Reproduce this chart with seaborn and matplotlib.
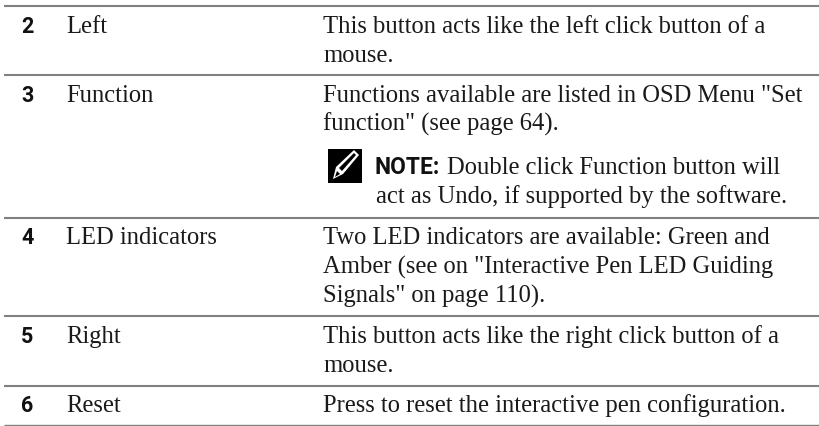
import matplotlib
matplotlib.use("Agg")
import matplotlib.pyplot as plt
from matplotlib.patches import Rectangle, Polygon
import seaborn as sns

sns.set_theme(style="white")

numbers = ["2", "3", "4", "5", "6"]
names = ["Left", "Function", "LED indicators", "Right", "Reset"]
number_y = [33, 102, 244, 343, 412]
rule_y = [5.5, 75, 218, 316, 386, 425]
desc_lines = [
    ("This button acts like the left click button of a", 33),
    ("mouse.", 62),
    ('Functions available are listed in OSD Menu "Set', 102),
    ('function" (see page 64).', 131),
    ("Two LED indicators are available: Green and", 244),
    ('Amber (see on "Interactive Pen LED Guiding', 274),
    ('Signals" on page 110).', 303),
    ("This button acts like the right click button of a", 343),
    ("mouse.", 372),
    ("Press to reset the interactive pen configuration.", 412),
]
note_label = "NOTE:"
note_line1 = "Double click Function button will"
note_line2 = "act as Undo, if supported by the software."

SERIF = ["Liberation Serif", "DejaVu Serif"]
BOLD = ["Roboto", "DejaVu Sans"]
FS = 17.7
TXT = "#1a1a1a"

fig = plt.figure(figsize=(8.2, 4.26), dpi=100)
ax = fig.add_axes([0, 0, 1, 1])
ax.set_xlim(0, 820)
ax.set_ylim(426, 0)
ax.axis("off")

for i, y in enumerate(rule_y):
    ax.plot([4, 820], [y, y], color="#808080", lw=1.5 if i < 5 else 1.0, solid_capstyle="butt")

for n, name, y in zip(numbers, names, number_y):
    ax.text(21, y, n, family=BOLD, weight="bold", fontsize=15.5, color="#111111", va="baseline")
    ax.text(66.5, y, name, family=SERIF, fontsize=FS, color=TXT, va="baseline")

for line, y in desc_lines:
    ax.text(323, y, line, family=SERIF, fontsize=FS, color=TXT, va="baseline")

# note icon: black square with an outlined white pencil
ax.add_patch(Rectangle((328, 149), 34, 34, color="black", lw=0))
ax.add_patch(Polygon([[333, 179], [336, 167], [354, 150], [359, 155], [343, 174]], closed=True,
                     facecolor="white", edgecolor="none"))
ax.add_patch(Polygon([[339, 168], [354, 153], [356, 155], [342, 171]], closed=True,
                     facecolor="black", edgecolor="none"))
ax.add_patch(Polygon([[335, 177], [337, 171], [340, 174]], closed=True,
                     facecolor="black", edgecolor="none"))

ax.text(375, 173.5, note_label, family=BOLD, weight="bold", fontsize=16.4, color="#111111", va="baseline")
ax.text(447, 174, note_line1, family=SERIF, fontsize=FS, color=TXT, va="baseline")
ax.text(376.5, 203, note_line2, family=SERIF, fontsize=FS, color=TXT, va="baseline")

fig.savefig("out.png", dpi=100, facecolor="white")
